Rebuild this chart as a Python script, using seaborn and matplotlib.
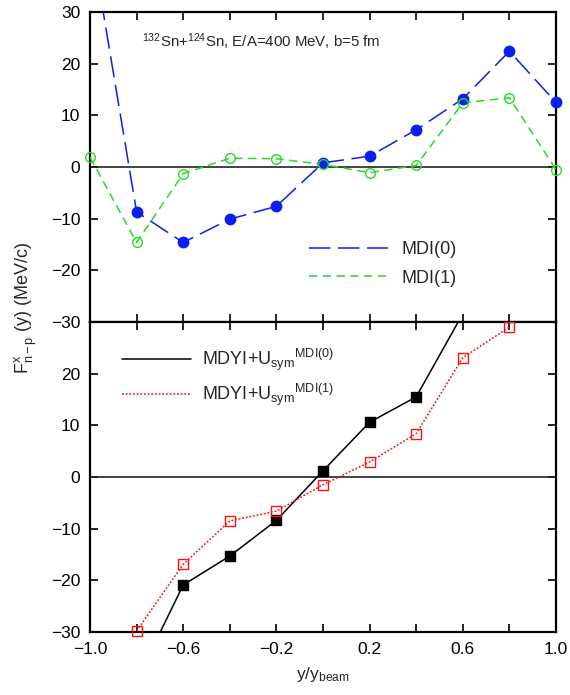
import numpy as np
import pandas as pd
import matplotlib
matplotlib.use("Agg")
import matplotlib.pyplot as plt
import seaborn as sns
from matplotlib.lines import Line2D

# ---------------- data ----------------
rapidity = [-1.0, -0.8, -0.6, -0.4, -0.2, 0.0, 0.2, 0.4, 0.6, 0.8, 1.0]
mdi0 = [45.3, -8.7, -14.6, -10.1, -7.6, 0.8, 2.1, 7.2, 13.2, 22.4, 12.5]
mdi1 = [1.9, -14.6, -1.3, 1.7, 1.6, 0.5, -1.1, 0.3, 12.4, 13.4, -0.5]

rap_mdyi0 = [-0.8, -0.6, -0.4, -0.2, 0.0, 0.2, 0.4, 0.6]
mdyi0 = [-39.4, -20.9, -15.3, -8.4, 1.2, 10.6, 15.5, 31.6]
rap_mdyi1 = [-0.8, -0.6, -0.4, -0.2, 0.0, 0.2, 0.4, 0.6, 0.8]
mdyi1 = [-29.8, -16.9, -8.5, -6.6, -1.5, 2.9, 8.4, 23.1, 29.0]

x_minor = [-1.0, -0.8, -0.6, -0.4, -0.2, 0.0, 0.2, 0.4, 0.6, 0.8, 1.0]
x_labels = ["\u22121.0", "", "\u22120.6", "", "\u22120.2", "", "0.2", "", "0.6", "", "1.0"]
y_ticks = [-30, -20, -10, 0, 10, 20, 30]
y_labels_top = ["\u221230", "\u221220", "\u221210", "0", "10", "20", "30"]
y_labels_bot = ["\u221230", "\u221220", "\u221210", "0", "10", "20", ""]

legend_top = ["MDI(0)", "MDI(1)"]
legend_bot = [r"MDYI+U$_{\mathrm{sym}}$$^{\mathrm{MDI(0)}}$",
              r"MDYI+U$_{\mathrm{sym}}$$^{\mathrm{MDI(1)}}$"]
annotation = r"$^{132}$Sn+$^{124}$Sn, E/A=400 MeV, b=5 fm"

# ---------------- style ----------------
sns.set_theme(style="ticks")
plt.rcParams["font.family"] = ["Liberation Sans", "DejaVu Sans"]
plt.rcParams["mathtext.fontset"] = "custom"
plt.rcParams["mathtext.rm"] = "Liberation Sans"
plt.rcParams["mathtext.it"] = "Liberation Sans"
plt.rcParams["mathtext.bf"] = "Liberation Sans:bold"
plt.rcParams["axes.unicode_minus"] = True

BLUE = "#0a1ef0"
GREEN = "#22dd22"
RED = "#ff1010"
BLACK = "#000000"

fig = plt.figure(figsize=(5.7, 6.95), dpi=100)
L, W = 90 / 570, 466 / 570
ax1 = fig.add_axes([L, 1 - 322 / 695, W, 310 / 695])
ax2 = fig.add_axes([L, 1 - 632 / 695, W, 310 / 695])

top_df = pd.DataFrame({"y": rapidity, "mdi0": mdi0, "mdi1": mdi1})
b0_df = pd.DataFrame({"y": rap_mdyi0, "v": mdyi0})
b1_df = pd.DataFrame({"y": rap_mdyi1, "v": mdyi1})


def draw(ax, df, col, color, ls, marker, mfc, ms):
    sns.lineplot(data=df, x="y", y=col, ax=ax, color=color, lw=1.1,
                 linestyle=ls, estimator=None, sort=False, zorder=3)
    vis = df[df[col].abs() <= 30.5]
    sns.lineplot(data=vis, x="y", y=col, ax=ax, color=color, linestyle="none",
                 marker=marker, markersize=ms, markerfacecolor=mfc,
                 markeredgecolor=color, markeredgewidth=1.0,
                 estimator=None, sort=False, clip_on=False, zorder=4)


draw(ax1, top_df, "mdi0", BLUE, (0, (14, 5)), "o", BLUE, 7.5)
draw(ax1, top_df, "mdi1", GREEN, (0, (5.5, 3.5)), "o", "none", 7)
draw(ax2, b0_df, "v", BLACK, "-", "s", BLACK, 7)
draw(ax2, b1_df, "v", RED, (0, (1.2, 1.2)), "s", "none", 6.5)

for ax, ylabs in ((ax1, y_labels_top), (ax2, y_labels_bot)):
    ax.axhline(0, color="#222222", lw=1.2, zorder=2)
    ax.set_xlim(-1.0, 1.0)
    ax.set_ylim(-30, 30)
    ax.set_xticks(x_minor)
    ax.set_yticks(y_ticks)
    ax.set_yticklabels(ylabs)
    ax.set_xlabel("")
    ax.set_ylabel("")
    ax.tick_params(direction="in", length=6, width=1.2, top=True, right=True,
                   labelsize=12.5, color="black", labelcolor="black")
    ax.tick_params(axis="y", pad=7)
    ax.tick_params(axis="x", pad=7)
    for s in ax.spines.values():
        s.set_linewidth(1.6)
        s.set_color("black")
        s.set_visible(True)
    ax.set_facecolor("white")
    ax.grid(False)

ax1.set_xticklabels([""] * len(x_minor))
ax2.set_xticklabels(x_labels)

ax1.text(0.112, 0.905, annotation, transform=ax1.transAxes, fontsize=10.8,
         ha="left", va="center")

h_top = [Line2D([], [], color=BLUE, lw=1.1, linestyle=(0, (14, 5))),
         Line2D([], [], color=GREEN, lw=1.1, linestyle=(0, (5.5, 3.5)))]
ax1.legend(h_top, legend_top, loc="upper left", bbox_to_anchor=(0.47, 0.26),
           frameon=False, fontsize=13, handlelength=4.4, handletextpad=0.7,
           labelspacing=0.62, borderpad=0, borderaxespad=0)

h_bot = [Line2D([], [], color=BLACK, lw=1.1, linestyle="-"),
         Line2D([], [], color=RED, lw=1.1, linestyle=(0, (1.2, 1.2)))]
ax2.legend(h_bot, legend_bot, loc="upper left", bbox_to_anchor=(0.069, 0.92),
           frameon=False, fontsize=13, handlelength=3.8, handletextpad=0.6,
           labelspacing=0.5, borderpad=0, borderaxespad=0)

ax2.set_xlabel(r"y/y$_{\mathrm{beam}}$", fontsize=12.5, labelpad=6)
fig.text(26 / 570, 1 - 308 / 695, r"F$^{\mathrm{x}}_{\mathrm{n-p}}$ (y) (MeV/c)",
         rotation=90, ha="center", va="center", fontsize=13)

fig.savefig("out.png", dpi=100, facecolor="white")
